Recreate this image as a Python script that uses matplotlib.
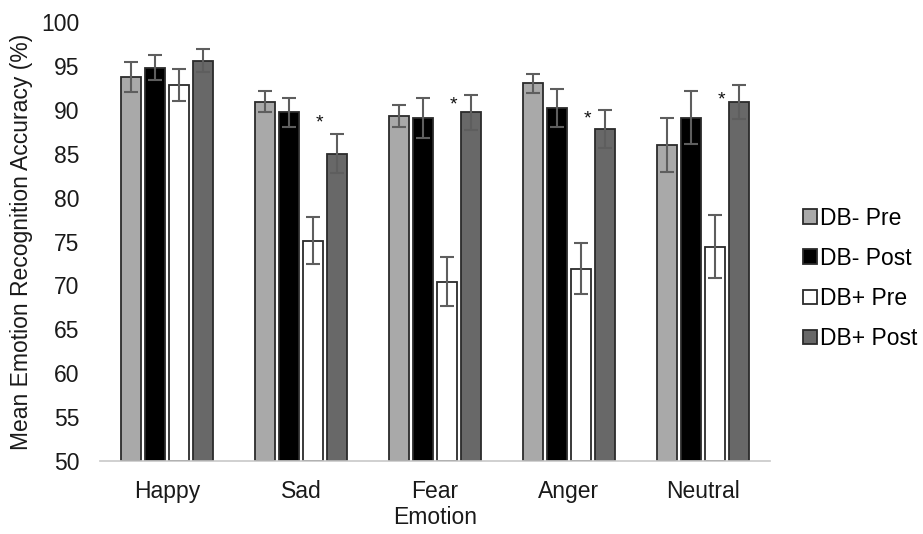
import numpy as np
import matplotlib
matplotlib.use("Agg")
import matplotlib.pyplot as plt

plt.rcParams['font.family'] = ['Liberation Sans', 'DejaVu Sans']

emotions = ['Happy', 'Sad', 'Fear', 'Anger', 'Neutral']
groups = ['DB- Pre', 'DB- Post', 'DB+ Pre', 'DB+ Post']

means = [
    [93.7, 90.9, 89.3, 93.0, 86.0],   # DB- Pre
    [94.8, 89.7, 89.1, 90.2, 89.1],   # DB- Post
    [92.8, 75.1, 70.4, 71.9, 74.4],   # DB+ Pre
    [95.6, 85.0, 89.7, 87.8, 90.9],   # DB+ Post
]
errors = [
    [1.7, 1.2, 1.3, 1.1, 3.1],
    [1.4, 1.7, 2.3, 2.2, 3.0],
    [1.8, 2.7, 2.8, 2.9, 3.6],
    [1.3, 2.2, 2.0, 2.2, 1.9],
]
star_emotions = ['Sad', 'Fear', 'Anger', 'Neutral']
star_y = [88.5, 90.6, 89.0, 91.1]

colors = ['#a9a9a9', '#000000', '#ffffff', '#686868']

fig = plt.figure(figsize=(9.23, 5.34), dpi=100)
ax = fig.add_axes([0.1083, 0.1367, 0.7259, 0.8221])

x = np.arange(len(emotions))
width = 0.149
pitch = 0.181
for i, g in enumerate(groups):
    off = (i - 1.5) * pitch
    ax.bar(x + off, np.array(means[i]) - 50, width, bottom=50, color=colors[i],
           edgecolor='#2b2b2b', linewidth=1.3, label=g, zorder=2)
    ax.errorbar(x + off, means[i], yerr=errors[i], fmt='none', ecolor='#5e5e5e',
                elinewidth=1.5, capsize=5, capthick=1.5, zorder=3)

for e, sy in zip(star_emotions, star_y):
    xi = emotions.index(e)
    ax.text(xi + 0.135, sy, '*', ha='center', va='center', fontsize=14, color='#111111')

fs = 16.5
ax.set_xlim(-0.5, len(emotions) - 0.5)
ax.set_ylim(50, 100)
ax.set_yticks(np.arange(50, 101, 5))
ax.set_xticks(x)
ax.set_xticklabels(emotions)
ax.tick_params(axis='both', length=0, labelsize=fs, colors='#1a1a1a')
ax.tick_params(axis='x', pad=14)
ax.tick_params(axis='y', pad=15)
for s in ['top', 'right', 'left']:
    ax.spines[s].set_visible(False)
ax.spines['bottom'].set_color('#c8c8c8')
ax.spines['bottom'].set_linewidth(1.2)

ax.set_xlabel('Emotion', fontsize=fs, color='#1a1a1a', labelpad=2)
ax.set_ylabel('Mean Emotion Recognition Accuracy (%)', fontsize=fs, color='#1a1a1a', labelpad=6)

leg = ax.legend(loc='center left', bbox_to_anchor=(1.036, 0.416), frameon=False,
                fontsize=fs, handlelength=0.6, handleheight=0.6, handletextpad=0.15,
                labelspacing=0.75, borderaxespad=0)

fig.savefig('out.png', dpi=100)
